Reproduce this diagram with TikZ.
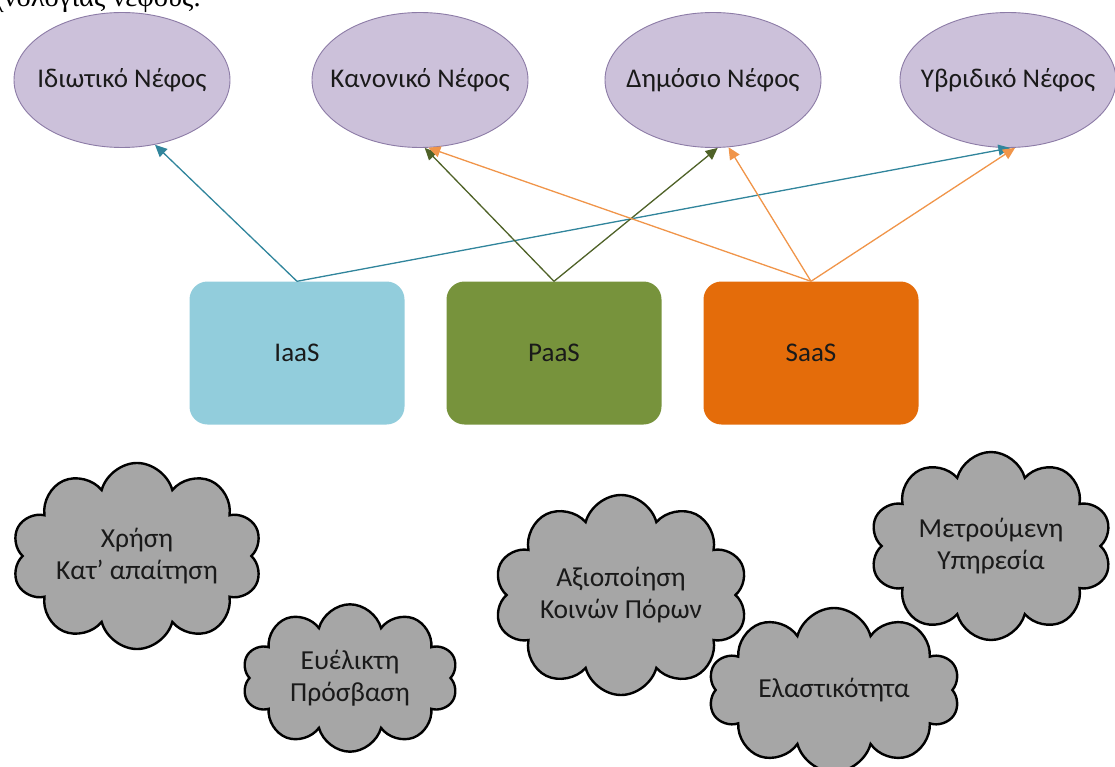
\documentclass[tikz,border=0pt]{standalone}
\usepackage{fontspec}
\setmainfont{Carlito}
\newfontfamily\serifgr{Liberation Serif}
\usetikzlibrary{shapes.geometric,shapes.symbols,arrows.meta}
\definecolor{ellfill}{HTML}{CCC1DA}
\definecolor{elldraw}{HTML}{8C7BA6}
\definecolor{iaascol}{HTML}{92CDDC}
\definecolor{paascol}{HTML}{77933C}
\definecolor{saascol}{HTML}{E46C0A}
\definecolor{iaasline}{HTML}{31859C}
\definecolor{paasline}{HTML}{4F6228}
\definecolor{saasline}{HTML}{F0954A}
\definecolor{cloudgray}{HTML}{A6A6A6}
\definecolor{txt}{HTML}{1A1A1A}
\tikzset{
  deploy/.style={ellipse, draw=elldraw, fill=ellfill, line width=0.9pt,
    minimum width=216, minimum height=135, inner xsep=-40pt, inner ysep=0pt, text=txt,
    font=\fontsize{27}{32}\selectfont},
  svc/.style={rectangle, rounded corners=18pt, minimum width=215,
    minimum height=143, inner sep=0pt, text=txt,
    font=\fontsize{27}{32}\selectfont},
  feat/.style={cloud, cloud puffs=10, aspect=1.5, draw=black,
    line width=2.4pt, fill=cloudgray, align=center, text=txt, inner sep=0pt,
    font=\fontsize{27.5}{32}\selectfont},
  link/.style={line width=1.3pt, -{Triangle[length=12pt,width=11pt]}}
}
\begin{document}
\begin{tikzpicture}[x=1pt,y=-1pt]
\useasboundingbox (0,0) rectangle (1115,767);
\clip (0,0) rectangle (1115,767);
\node[anchor=base west, inner sep=0pt, font=\serifgr\fontsize{28.5}{34}\selectfont] (title) at (-32.5,7) {τεχνολογίας νέφους.};

\node[deploy] (priv) at (122,80) {Ιδιωτικό Νέφος};
\node[deploy] (comm) at (420,80) {Κανονικό Νέφος};
\node[deploy] (pub) at (713,80) {Δημόσιο Νέφος};
\node[deploy] (hyb) at (1008,80) {Υβριδικό Νέφος};

\node[svc, fill=iaascol] (iaas) at (297,353) {IaaS};
\node[svc, fill=paascol] (paas) at (554,353) {PaaS};
\node[svc, fill=saascol] (saas) at (811,353) {SaaS};

\draw[link, draw=iaasline, fill=iaasline] (iaas.north) -- (priv.-63);
\draw[link, draw=iaasline, fill=iaasline] (iaas.north) -- (hyb.-88);
\draw[link, draw=paasline, fill=paasline] (paas.north) -- (comm.-86);
\draw[link, draw=paasline, fill=paasline] (paas.north) -- (pub.-86);
\draw[link, draw=saasline, fill=saasline] (saas.north) -- (comm.-83);
\draw[link, draw=saasline, fill=saasline] (saas.north) -- (pub.-77);
\draw[link, draw=saasline, fill=saasline] (saas.north) -- (hyb.-84);

\node[feat, aspect=1.65, minimum width=250, minimum height=160] (ondemand) at (137,556) {Χρήση\\Κατ’ απαίτηση};
\node[feat, minimum width=216, minimum height=146] (access) at (350,678) {Ευέλικτη\\Πρόσβαση};
\node[feat, minimum width=250, minimum height=200] (pool) at (621,595) {Αξιοποίηση\\Κοινών Πόρων};
\node[feat, aspect=1.8, minimum width=252, minimum height=140] (elastic) at (834,690) {Ελαστικότητα};
\node[feat, minimum width=242, minimum height=188] (metered) at (991,546) {Μετρούμενη\\Υπηρεσία};
\end{tikzpicture}
\end{document}
